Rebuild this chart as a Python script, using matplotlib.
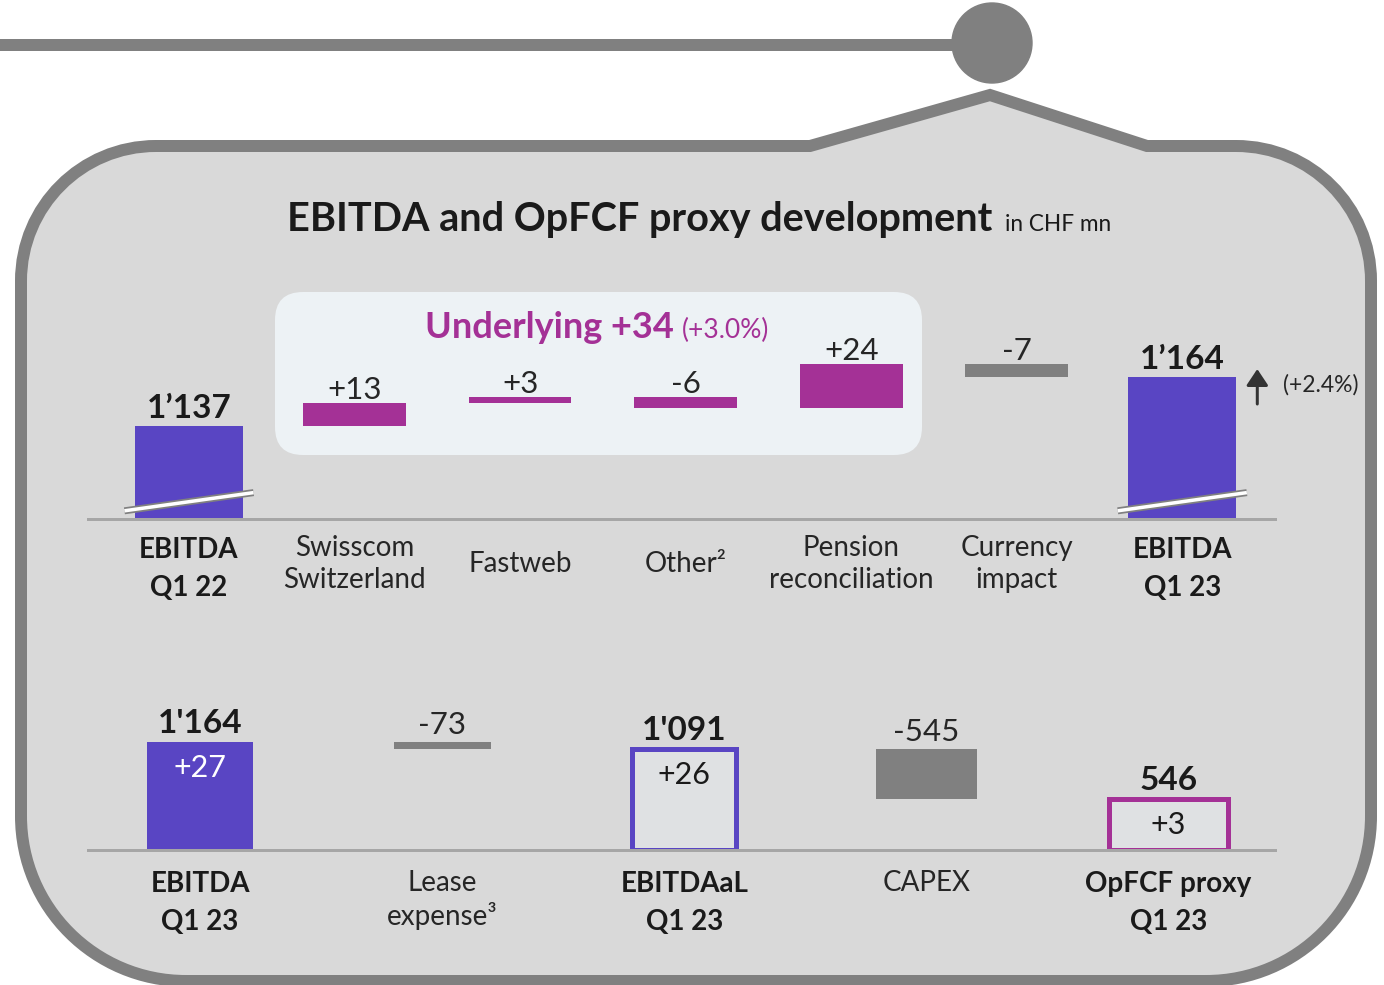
import matplotlib.pyplot as plt
import numpy as np
from matplotlib.patches import FancyBboxPatch, PathPatch, Circle
from matplotlib.path import Path
from matplotlib.transforms import offset_copy

W, H = 1384, 985
plt.rcParams['font.family'] = ['Lato', 'DejaVu Sans']

# top waterfall: EBITDA Q1 22 -> Q1 23
top_labels = ['EBITDA\nQ1 22', 'Swisscom\nSwitzerland', 'Fastweb', 'Other²',
              'Pension\nreconciliation', 'Currency\nimpact', 'EBITDA\nQ1 23']
top_start = 1137
top_deltas = [13, 3, -6, 24, -7]
top_end = 1164
top_texts = ['1’137', '+13', '+3', '-6', '+24', '-7', '1’164']
top_delta_colors = ['magenta', 'magenta', 'magenta', 'magenta', 'gray']

# bottom waterfall: EBITDA -> OpFCF proxy
bottom_labels = ['EBITDA\nQ1 23', 'Lease\nexpense³', 'EBITDAaL\nQ1 23', 'CAPEX', 'OpFCF proxy\nQ1 23']
bottom_values = [1164, -73, 1091, -545, 546]
bottom_kinds = ['total', 'delta', 'total', 'delta', 'total']
bottom_texts = ["1'164", '-73', "1'091", '-545', '546']
bottom_yoy = ['+27', '', '+26', '', '+3']

BLUE = '#5945c3'
MAGENTA = '#a43196'
GRAY = '#808080'
BG = '#d9d9d9'
BOXFILL = '#dfe1e3'
DARK = '#1a1a1a'
TXT = '#262626'
colors = {'magenta': MAGENTA, 'gray': GRAY}

PX = 0.72  # points per pixel at dpi 100

fig = plt.figure(figsize=(W / 100, H / 100), dpi=100)
fig.patch.set_facecolor('white')

# decorative background in pixel coordinates
bg = fig.add_axes([0, 0, 1, 1])
bg.set_xlim(0, W)
bg.set_ylim(H, 0)
bg.axis('off')

L, R, T, B = 21, 1371, 146, 981
rt, rb = 135, 165
k = 0.5523
verts = [(L, T + rt),
         (L, T + rt - k * rt), (L + rt - k * rt, T), (L + rt, T),
         (810, T), (990, 95), (1147, T), (R - rt, T),
         (R - rt + k * rt, T), (R, T + rt - k * rt), (R, T + rt),
         (R, B - rb),
         (R, B - rb + k * rb), (R - rb + k * rb, B), (R - rb, B),
         (L + rb, B),
         (L + rb - k * rb, B), (L, B - rb + k * rb), (L, B - rb),
         (L, T + rt)]
codes = [Path.MOVETO, Path.CURVE4, Path.CURVE4, Path.CURVE4,
         Path.LINETO, Path.LINETO, Path.LINETO, Path.LINETO,
         Path.CURVE4, Path.CURVE4, Path.CURVE4,
         Path.LINETO,
         Path.CURVE4, Path.CURVE4, Path.CURVE4,
         Path.LINETO,
         Path.CURVE4, Path.CURVE4, Path.CURVE4,
         Path.CLOSEPOLY]
bg.add_patch(PathPatch(Path(verts, codes), facecolor=BG, edgecolor=GRAY,
                       lw=12 * PX, joinstyle='miter'))
bg.plot([0, 960], [45, 45], color=GRAY, lw=12 * PX, solid_capstyle='butt')
bg.add_patch(Circle((992, 43), 40, color=GRAY))
bg.add_patch(FancyBboxPatch((275, 292), 647, 163,
                            boxstyle='round,pad=0,rounding_size=28',
                            facecolor='#edf2f5', edgecolor='none'))

title = bg.text(287, 231, 'EBITDA and OpFCF proxy development', fontsize=28.5,
                fontweight='bold', color=DARK, ha='left', va='baseline')
bg.annotate('in CHF mn', xy=(1, 0), xycoords=title, xytext=(9, 2.5),
            textcoords='offset points', fontsize=16.3, color=DARK,
            ha='left', va='bottom')
under = bg.text(425, 338, 'Underlying +34', fontsize=26, fontweight='bold',
                color=MAGENTA, ha='left', va='baseline')
bg.annotate('(+3.0%)', xy=(1, 0), xycoords=under, xytext=(6, 0.5),
            textcoords='offset points', fontsize=19, color=MAGENTA,
            ha='left', va='bottom')


def make_axes(x0, x1, y0, y1):
    ax = fig.add_axes([x0 / W, 1 - y1 / H, (x1 - x0) / W, (y1 - y0) / H])
    ax.set_facecolor('none')
    for s in ['top', 'left', 'right']:
        ax.spines[s].set_visible(False)
    ax.spines['bottom'].set_color('#a6a6a6')
    ax.spines['bottom'].set_linewidth(3 * PX)
    ax.set_xticks([])
    ax.set_yticks([])
    return ax


# ---- top waterfall ----
ax1 = make_axes(88, 1275, 290, 519)
s1 = 1.82  # px per CHF mn
ax1.set_ylim(1086, 1086 + 229 / s1)
ax1.set_xlim(-0.61, 6.56)
x1 = np.arange(len(top_labels))

ax1.bar(x1[0], top_start, width=0.65, color=BLUE)
ax1.bar(x1[-1], top_end, width=0.65, color=BLUE)
tops = [top_start]
run = top_start
for i, d in enumerate(top_deltas):
    ax1.bar(x1[i + 1], d, bottom=run, width=0.62, color=colors[top_delta_colors[i]])
    tops.append(max(run, run + d))
    run += d
tops.append(top_end)

for i, txt in enumerate(top_texts):
    bold = i in (0, len(top_texts) - 1)
    ax1.annotate(txt, (x1[i], tops[i]), xytext=(0, (8 if bold else 4) * PX),
                 textcoords='offset points', ha='center', va='baseline',
                 fontsize=24 if bold else 22.5, fontweight='bold' if bold else 'normal',
                 color=DARK if bold else TXT)
    ax1.annotate(top_labels[i], (x1[i], 0), xycoords=('data', 'axes fraction'),
                 xytext=(0, (-50 if bold else -45) * PX), textcoords='offset points',
                 ha='center', va='center', multialignment='center',
                 linespacing=1.55 if bold else 1.3,
                 fontsize=20, fontweight='bold' if bold else 'normal',
                 color=DARK if bold else TXT)

# axis break marks on the two total bars
for xb in (x1[0], x1[-1]):
    ax1.plot([xb - 0.39, xb + 0.39], [1090.5, 1100.5], color=GRAY, lw=7 * PX,
             solid_capstyle='butt', clip_on=False)
    ax1.plot([xb - 0.39, xb + 0.39], [1090.5, 1100.5], color='white', lw=3.5 * PX,
             solid_capstyle='butt', clip_on=False)

# growth arrow next to the Q1 23 bar
tip = offset_copy(ax1.transData, fig=fig, x=75 * PX, y=8 * PX, units='points')
tail = offset_copy(ax1.transData, fig=fig, x=75 * PX, y=-27 * PX, units='points')
ax1.annotate('', xy=(x1[-1], top_end), xycoords=tip, xytext=(x1[-1], top_end),
             textcoords=tail,
             arrowprops=dict(arrowstyle='-|>,head_width=0.3,head_length=0.45',
                             color='#333333', lw=3 * PX, mutation_scale=22,
                             shrinkA=0, shrinkB=0))
ax1.annotate('(+2.4%)', (x1[-1], top_end), xytext=(101 * PX, -8 * PX),
             textcoords='offset points', ha='left', va='center', fontsize=16.5,
             color=TXT)

# ---- bottom waterfall ----
ax2 = make_axes(88, 1275, 680, 850)
s2 = 0.093
ax2.set_ylim(0, 170 / s2)
ax2.set_xlim(-0.463, 4.44)
x2 = np.arange(len(bottom_labels))
widths = [0.44, 0.40, 0.43, 0.42, 0.49]

run = 0
for i, v in enumerate(bottom_values):
    kind = bottom_kinds[i]
    if kind == 'delta':
        ax2.bar(x2[i], v, bottom=run, width=widths[i], color=GRAY)
        top = max(run, run + v)
        run += v
        ax2.annotate(bottom_texts[i], (x2[i], top), xytext=(0, 8 * PX),
                     textcoords='offset points', ha='center', va='baseline',
                     fontsize=22.5, color=TXT)
        ax2.annotate(bottom_labels[i], (x2[i], 0), xycoords=('data', 'axes fraction'),
                     xytext=(0, -20 * PX), textcoords='offset points', ha='center',
                     va='top', multialignment='center', linespacing=1.25,
                     fontsize=20, color=TXT)
    else:
        run = v
        if i == 0:
            ax2.bar(x2[i], v, width=widths[i], color=BLUE)
            yoy_color = 'white'
        else:
            edge = BLUE if i == 2 else MAGENTA
            ax2.bar(x2[i], v, width=widths[i], facecolor=BOXFILL,
                    edgecolor=edge, lw=5 * PX)
            yoy_color = DARK
        ax2.annotate(bottom_texts[i], (x2[i], v), xytext=(0, 9 * PX),
                     textcoords='offset points', ha='center', va='baseline',
                     fontsize=24, fontweight='bold', color=DARK)
        ax2.annotate(bottom_yoy[i], (x2[i], v), xytext=(0, -26 * PX),
                     textcoords='offset points', ha='center', va='center',
                     fontsize=22, color=yoy_color)
        ax2.annotate(bottom_labels[i], (x2[i], 0), xycoords=('data', 'axes fraction'),
                     xytext=(0, -21 * PX), textcoords='offset points', ha='center',
                     va='top', multialignment='center', linespacing=1.55,
                     fontsize=20, fontweight='bold', color=DARK)

fig.savefig('out.png', dpi=100, facecolor='white')
